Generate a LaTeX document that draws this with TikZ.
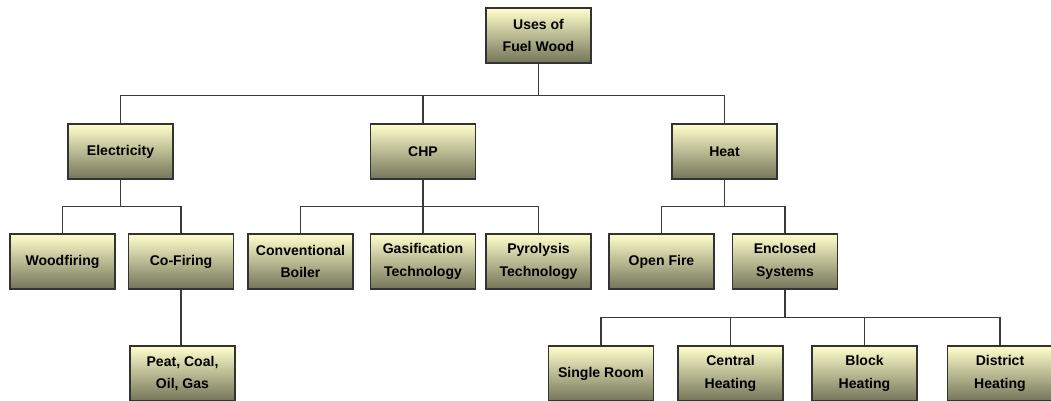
\documentclass[tikz,border=0pt]{standalone}
\usepackage{fontspec}
\setmainfont{Liberation Sans}
\usepackage{tikz}
\usetikzlibrary{calc}

\definecolor{box-top}{HTML}{FFFFCC}
\definecolor{box-bottom}{HTML}{74745A}
\definecolor{box-line}{HTML}{333333}
\definecolor{link-line}{HTML}{3A3A3A}

\begin{document}
\begin{tikzpicture}[x=0.02cm,y=-0.02cm]
        \tikzstyle{every node}=[rectangle,draw=box-line,line width=0.6pt,top color=box-top,bottom color=box-bottom,
          minimum width=2.1cm,minimum height=1.1cm,inner sep=1pt,align=center,
          font=\fontsize{8}{13}\selectfont\bfseries]
        \tikzset{link/.style={draw=link-line,line width=0.6pt}}

        \useasboundingbox (0,0) rectangle (1051,400);

        % root
        \node (uses) at (538.5,35.5) {Uses of\\Fuel Wood};

        % first level
        \node (elec) at (120.5,151.5) {Electricity};
        \node (chp) at (423,151.5) {CHP};
        \node (heat) at (724.5,151.5) {Heat};

        % second level
        \node (wood) at (62.5,261.5) {Woodfiring};
        \node (cofire) at (181,261.5) {Co-Firing};
        \node (conv) at (300.5,261.5) {Conventional\\Boiler};
        \node (gasif) at (423,261.5) {Gasification\\Technology};
        \node (pyro) at (538.5,261.5) {Pyrolysis\\Technology};
        \node (openfire) at (661.5,261.5) {Open Fire};
        \node (encl) at (785,261.5) {Enclosed\\Systems};

        % third level
        \node (peat) at (182.5,373.5) {Peat, Coal,\\Oil, Gas};
        \node (single) at (601,373.5) {Single Room};
        \node (central) at (730.5,373.5) {Central\\Heating};
        \node (block) at (864.5,373.5) {Block\\Heating};
        \node (district) at (1000,373.5) {District\\Heating};

        \draw [link] (uses.south) -- ++(0,32) -| (elec.north);
        \draw [link] (uses.south) -- ++(0,32) -| (chp.north);
        \draw [link] (uses.south) -- ++(0,32) -| (heat.north);

        \draw [link] (elec.south) -- ++(0,27) -| (wood.north);
        \draw [link] (elec.south) -- ++(0,27) -| (cofire.north);
        \draw [link] (chp.south) -- ++(0,27) -| (conv.north);
        \draw [link] (chp.south) -- ++(0,27) -| (gasif.north);
        \draw [link] (chp.south) -- ++(0,27) -| (pyro.north);
        \draw [link] (heat.south) -- ++(0,27) -| (openfire.north);
        \draw [link] (heat.south) -- ++(0,27) -| (encl.north);

        \draw [link] (cofire.south) -- (cofire.south |- peat.north);
        \draw [link] (encl.south) -- ++(0,28) -| (single.north);
        \draw [link] (encl.south) -- ++(0,28) -| (central.north);
        \draw [link] (encl.south) -- ++(0,28) -| (block.north);
        \draw [link] (encl.south) -- ++(0,28) -| (district.north);
    \end{tikzpicture}
\end{document}
